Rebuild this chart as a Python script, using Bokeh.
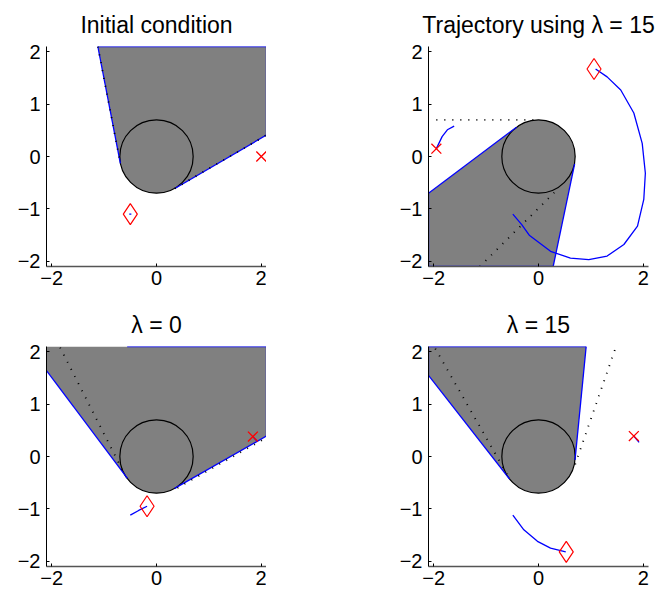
from bokeh.plotting import figure
from bokeh.layouts import column, row
from bokeh.embed import file_html
from bokeh.resources import INLINE
from bokeh.models import Range1d, FixedTicker, CustomJSTickFormatter

# ---------------- data ----------------
LIM = 2.1
X_TICKS = [-2, 0, 2]
Y_TICKS = [-2, -1, 0, 1, 2]
OBST_X = [0.0]
OBST_Y = [0.0]
OBST_R = 0.7

TITLES = ["Initial condition", "Trajectory using \u03bb = 15", "\u03bb = 0", "\u03bb = 15"]

# panel 1: initial condition
p1_shadow_x = [-1.12, -0.69, 0.35, 2.1, 2.1]
p1_shadow_y = [2.1, -0.13, -0.61, 0.41, 2.1]
p1_edges_x = [[-1.12, -0.69], [0.35, 2.1], [2.1, 2.1], [2.1, -1.12]]
p1_edges_y = [[2.1, -0.13], [-0.61, 0.41], [0.41, 2.1], [2.1, 2.1]]
p1_dots_x = [[-1.12, -0.69], [0.35, 2.1]]
p1_dots_y = [[2.1, -0.13], [-0.61, 0.41]]
p1_traj_x = [-0.52, -0.48]
p1_traj_y = [-1.10, -1.10]
p1_tail_x = [2.0, 2.0]
p1_tail_y = [0.0, 0.0]
p1_robot = ([-0.50], [-1.10])
p1_goal = ([2.0], [0.0])

# panel 2: trajectory using lambda = 15
p2_shadow_x = [-2.1, -0.42, 0.69, 0.28, -2.1]
p2_shadow_y = [-0.70, 0.56, -0.14, -2.1, -2.1]
p2_edges_x = [[-2.1, -0.42], [0.69, 0.28], [0.28, -2.1], [-2.1, -2.1]]
p2_edges_y = [[-0.70, 0.56], [-0.14, -2.1], [-2.1, -2.1], [-2.1, -0.70]]
p2_dots_x = [[-1.95, 0.0], [-1.12, 0.31]]
p2_dots_y = [[0.70, 0.70], [-2.1, -0.68]]
p2_traj_x = [-0.49, -0.32, -0.17, 0.23, 0.61, 0.96, 1.31, 1.63, 1.89, 2.01, 2.04, 1.98, 1.82, 1.57, 1.31, 1.09]
p2_traj_y = [-1.10, -1.30, -1.51, -1.81, -1.94, -1.97, -1.90, -1.68, -1.33, -0.82, -0.32, 0.25, 0.83, 1.27, 1.52, 1.67]
p2_tail_x = [-1.61, -1.74, -1.84, -1.95]
p2_tail_y = [0.58, 0.51, 0.38, 0.15]
p2_robot = ([1.06], [1.67])
p2_goal = ([-1.95], [0.15])

# panel 3: lambda = 0
p3_shadow_x = [-2.1, -2.1, -0.555, 0.346, 2.1, 2.1]
p3_shadow_y = [2.1, 1.64, -0.417, -0.608, 0.39, 2.1]
p3_edges_x = [[-2.1, -0.555], [0.346, 2.1], [2.1, 2.1], [2.1, -0.56]]
p3_edges_y = [[1.64, -0.417], [-0.608, 0.39], [0.39, 2.1], [2.1, 2.1]]
p3_dots_x = [[-1.84, -0.62], [0.40, 2.1]]
p3_dots_y = [[2.08, -0.32], [-0.60, 0.36]]
p3_traj_x = [-0.50, -0.34, -0.18]
p3_traj_y = [-1.12, -1.03, -0.95]
p3_tail_x = [1.84, 1.92]
p3_tail_y = [0.38, 0.29]
p3_robot = ([-0.18], [-0.95])
p3_goal = ([1.84], [0.38])

# panel 4: lambda = 15
p4_shadow_x = [-2.1, -2.1, -0.552, 0.697, 0.91]
p4_shadow_y = [2.1, 1.55, -0.430, -0.067, 2.1]
p4_edges_x = [[-2.1, -0.552], [0.697, 0.91], [0.91, -2.1], [-2.1, -2.1]]
p4_edges_y = [[1.55, -0.430], [-0.067, 2.1], [2.1, 2.1], [2.1, 1.55]]
p4_dots_x = [[-1.97, -0.60], [0.70, 1.48]]
p4_dots_y = [[2.06, -0.34], [-0.15, 2.1]]
p4_traj_x = [-0.49, -0.28, -0.02, 0.23, 0.52]
p4_traj_y = [-1.12, -1.40, -1.62, -1.75, -1.82]
p4_tail_x = [1.82, 1.92]
p4_tail_y = [0.39, 0.27]
p4_robot = ([0.53], [-1.82])
p4_goal = ([1.82], [0.39])

PANELS = [
    (p1_shadow_x, p1_shadow_y, p1_edges_x, p1_edges_y, p1_dots_x, p1_dots_y, p1_traj_x, p1_traj_y, p1_tail_x, p1_tail_y, p1_robot, p1_goal),
    (p2_shadow_x, p2_shadow_y, p2_edges_x, p2_edges_y, p2_dots_x, p2_dots_y, p2_traj_x, p2_traj_y, p2_tail_x, p2_tail_y, p2_robot, p2_goal),
    (p3_shadow_x, p3_shadow_y, p3_edges_x, p3_edges_y, p3_dots_x, p3_dots_y, p3_traj_x, p3_traj_y, p3_tail_x, p3_tail_y, p3_robot, p3_goal),
    (p4_shadow_x, p4_shadow_y, p4_edges_x, p4_edges_y, p4_dots_x, p4_dots_y, p4_traj_x, p4_traj_y, p4_tail_x, p4_tail_y, p4_robot, p4_goal),
]

# ---------------- styling ----------------
FONT = "Liberation Sans"
GRAY = "#808080"
BLUE = "#0000ff"
RED = "#ff0000"

BORDERS = [  # left, right, top, bottom
    (46, 0, 46, 35),
    (162, 8, 46, 35),
    (46, 0, 41, 30),
    (162, 8, 41, 30),
]

fmt_code = "return (tick < 0 ? '\\u2212' : '') + Math.abs(tick).toString();"


def make_panel(i):
    (sx, sy, ex, ey, dx, dy, tx, ty, gx, gy, robot, goal) = PANELS[i]
    bl, br, bt, bb = BORDERS[i]
    p = figure(frame_width=220, frame_height=220,
               x_range=Range1d(-LIM, LIM), y_range=Range1d(-LIM, LIM),
               output_backend="svg", toolbar_location=None, title=TITLES[i],
               min_border_left=bl, min_border_right=br,
               min_border_top=bt, min_border_bottom=bb)
    p.grid.visible = False
    p.outline_line_color = None
    p.title.align = "center"
    p.title.text_font = FONT
    p.title.text_font_size = "23px"
    p.title.text_font_style = "normal"
    p.title.text_color = "black"
    p.title.standoff = 17

    for ax, ticks in ((p.xaxis, X_TICKS), (p.yaxis, Y_TICKS)):
        ax.ticker = FixedTicker(ticks=ticks)
        ax.formatter = CustomJSTickFormatter(code=fmt_code)
        ax.major_label_text_font = FONT
        ax.major_label_text_font_size = "20px"
        ax.major_label_text_color = "black"
        ax.major_tick_in = 3
        ax.major_tick_out = 0
        ax.minor_tick_in = 0
        ax.minor_tick_out = 0
        ax.major_tick_line_color = "black"
    p.yaxis.axis_line_color = "black"
    p.yaxis.major_label_standoff = 6
    p.xaxis.axis_line_color = "#555555"
    p.xaxis.axis_line_width = 1.5
    p.xaxis.major_label_standoff = 4

    p.patch(sx, sy, fill_color=GRAY, line_color=None)
    p.circle(x=OBST_X, y=OBST_Y, radius=OBST_R, fill_color=GRAY, line_color="black", line_width=1.2)
    p.multi_line(ex, ey, line_color=BLUE, line_width=1.3)
    p.multi_line(dx, dy, line_color="black", line_width=1.8, line_dash="1 7")
    p.line(tx, ty, line_color=BLUE, line_width=1.3)
    p.line(gx, gy, line_color=BLUE, line_width=1.3)
    p.scatter(robot[0], robot[1], marker="diamond", size=21, fill_color=None, line_color=RED, line_width=1.2)
    p.scatter(goal[0], goal[1], marker="x", size=14, line_color=RED, line_width=1.3)
    return p


figs = [make_panel(i) for i in range(4)]
layout = column(row(figs[0], figs[1]), row(figs[2], figs[3]))

open("out.html", "w").write(file_html(layout, INLINE))
